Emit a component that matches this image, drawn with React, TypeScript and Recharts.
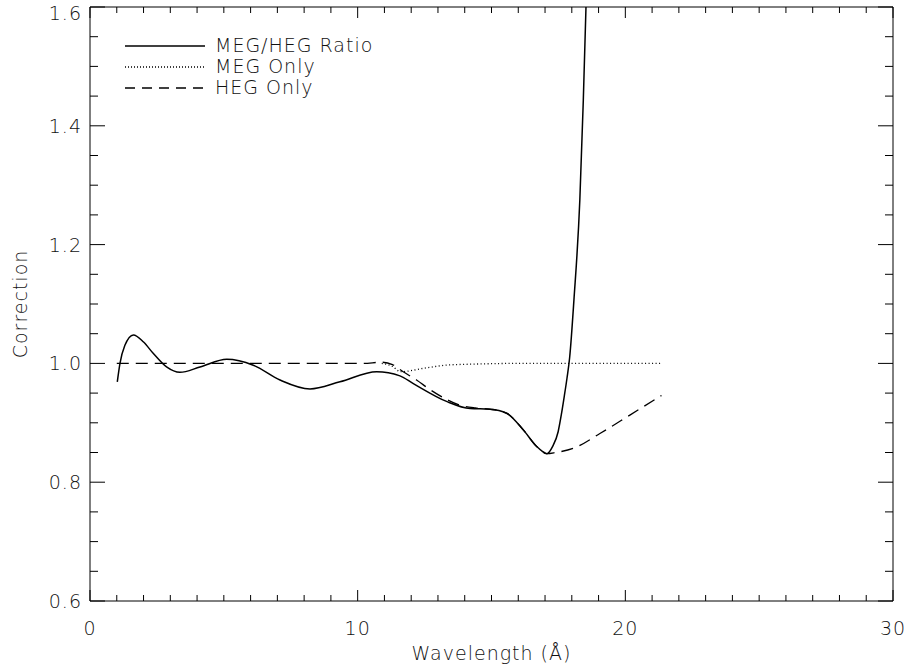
import { LineChart, Line, XAxis, YAxis, Legend } from 'recharts';

// MEG/HEG ratio (solid)
const ratioX = [1.02, 1.12, 1.3, 1.62, 2.0, 2.36, 2.86, 3.36, 4.11, 5.11, 6.1, 7.1, 8.22, 9.34, 10.71, 11.58, 12.08, 13.32, 14.2, 14.94, 15.57, 16.19, 16.69, 16.9, 17.07, 17.28, 17.49, 17.61, 17.72, 17.82, 17.92, 18.08, 18.3, 18.43, 18.53, 18.62];
const ratioY = [0.969, 1.0, 1.03, 1.048, 1.036, 1.017, 0.994, 0.985, 0.994, 1.007, 0.997, 0.972, 0.957, 0.969, 0.986, 0.979, 0.966, 0.936, 0.924, 0.923, 0.916, 0.888, 0.86, 0.852, 0.848, 0.86, 0.885, 0.914, 0.945, 0.975, 1.01, 1.107, 1.275, 1.443, 1.6, 1.76];

// MEG only (dotted)
const megX = [10.9, 11.3, 11.6, 12.5, 13.3, 14.5, 16.0, 21.35];
const megY = [1.0, 0.995, 0.986, 0.992, 0.997, 0.999, 1.0, 1.0];

// HEG only (dashed)
const hegX = [1.0, 10.2, 10.9, 11.3, 11.7, 12.2, 12.7, 13.3, 13.8, 14.4, 14.94, 15.57, 16.19, 16.69, 17.07, 17.4, 18.06, 19.05, 20.17, 21.35];
const hegY = [1.0, 1.0, 1.002, 0.998, 0.986, 0.972, 0.956, 0.94, 0.93, 0.925, 0.923, 0.916, 0.888, 0.86, 0.848, 0.85, 0.857, 0.882, 0.913, 0.946];

const xMajor = [0, 10, 20, 30];
const yMajor = [0.6, 0.8, 1.0, 1.2, 1.4, 1.6];
const xTicks = Array.from({ length: 31 }, (_, i) => i);
const yTicks = Array.from({ length: 21 }, (_, i) => Math.round((0.6 + i * 0.05) * 100) / 100);

const legendNames = ['MEG/HEG Ratio', 'MEG Only', 'HEG Only'];
const legendDash = ['', '1 2', '10 7'];

const FONT = '"DejaVu Sans", sans-serif';
const INK = '#000';

const zip = (xs: number[], ys: number[]) => xs.map((x, i) => ({ x, y: ys[i] }));
const ratioData = zip(ratioX, ratioY);
const megData = zip(megX, megY);
const hegData = zip(hegX, hegY);

const isMajorX = (v: number) => xMajor.includes(v);
const isMajorY = (v: number) => yMajor.some((m) => Math.abs(m - v) < 1e-6);

const textStyle = { fontFamily: FONT, fontSize: 19, fontWeight: 300, letterSpacing: 1, fill: '#111' };

function BottomTick({ x, y, payload }: any) {
  const major = isMajorX(payload.value);
  return (
    <g>
      <line x1={x} y1={y} x2={x} y2={y - (major ? 11 : 6)} stroke={INK} />
      {major && (
        <text x={x} y={y + 34} textAnchor="middle" style={textStyle}>{payload.value}</text>
      )}
    </g>
  );
}

function TopTick({ x, y, payload }: any) {
  const major = isMajorX(payload.value);
  return <line x1={x} y1={y} x2={x} y2={y + (major ? 11 : 6)} stroke={INK} />;
}

function LeftTick({ x, y, payload }: any) {
  const major = isMajorY(payload.value);
  return (
    <g>
      <line x1={x} y1={y} x2={x + (major ? 15 : 8)} y2={y} stroke={INK} />
      {major && (
        <text x={x - 8} y={Math.max(y + 7, 20)} textAnchor="end" style={textStyle}>{payload.value.toFixed(1)}</text>
      )}
    </g>
  );
}

function RightTick({ x, y, payload }: any) {
  const major = isMajorY(payload.value);
  return <line x1={x} y1={y} x2={x - (major ? 15 : 8)} y2={y} stroke={INK} />;
}

function LegendBox() {
  return (
    <div style={{ fontFamily: FONT, fontSize: 19, fontWeight: 300, letterSpacing: 1, color: '#111' }}>
      {legendNames.map((name, i) => (
        <div key={name} style={{ display: 'flex', alignItems: 'center', height: 21 }}>
          <svg width={90} height={21}>
            <line x1={0} y1={11} x2={80} y2={11} stroke={INK} strokeWidth={1.3} strokeDasharray={legendDash[i] || undefined} />
          </svg>
          <span style={{ lineHeight: '21px' }}>{name}</span>
        </div>
      ))}
    </div>
  );
}

export default function App() {
  return (
    <div style={{ position: 'absolute', left: 0, top: 0, background: '#fff' }}>
      <LineChart width={910} height={669} margin={{ top: 0, right: 0, bottom: 0, left: 0 }}>
        <XAxis
          dataKey="x"
          type="number"
          domain={[0, 30]}
          ticks={xTicks}
          interval={0}
          height={68}
          tickSize={0}
          tickMargin={0}
          tickLine={false}
          axisLine={{ stroke: INK }}
          tick={<BottomTick />}
          allowDataOverflow
          label={({ viewBox }: any) => (
            <text x={viewBox.x + viewBox.width / 2} y={viewBox.y + 59} textAnchor="middle" style={textStyle}>
              Wavelength (Å)
            </text>
          )}
        />
        <XAxis
          xAxisId="top"
          orientation="top"
          dataKey="x"
          type="number"
          domain={[0, 30]}
          ticks={xTicks}
          interval={0}
          height={7}
          tickSize={0}
          tickMargin={0}
          tickLine={false}
          axisLine={{ stroke: INK }}
          tick={<TopTick />}
          allowDataOverflow
        />
        <YAxis
          type="number"
          domain={[0.6, 1.6]}
          ticks={yTicks}
          interval={0}
          width={90}
          tickSize={0}
          tickMargin={0}
          tickLine={false}
          axisLine={{ stroke: INK }}
          tick={<LeftTick />}
          allowDataOverflow
          label={({ viewBox }: any) => {
            const cx = 20;
            const cy = viewBox.y + viewBox.height / 2;
            return (
              <text x={cx} y={cy} transform={`rotate(-90 ${cx} ${cy})`} textAnchor="middle" dominantBaseline="central" style={textStyle}>
                Correction
              </text>
            );
          }}
        />
        <YAxis
          yAxisId="right"
          orientation="right"
          type="number"
          domain={[0.6, 1.6]}
          ticks={yTicks}
          interval={0}
          width={17}
          tickSize={0}
          tickMargin={0}
          tickLine={false}
          axisLine={{ stroke: INK }}
          tick={<RightTick />}
          allowDataOverflow
        />
        <Legend
          layout="vertical"
          align="center"
          verticalAlign="middle"
          wrapperStyle={{ left: 125, top: 35, width: 'auto' }}
          content={<LegendBox />}
        />
        {/* MEG curve is drawn against the top/right axes, which share the same domains */}
        <Line data={megData} xAxisId="top" yAxisId="right" dataKey="y" name="MEG Only" type="monotone" stroke={INK} strokeWidth={1.3} strokeDasharray="1 2.5" dot={false} isAnimationActive={false} />
        <Line data={hegData} dataKey="y" name="HEG Only" type="monotone" stroke={INK} strokeWidth={1.3} strokeDasharray="12 7" dot={false} isAnimationActive={false} />
        <Line data={ratioData} dataKey="y" name="MEG/HEG Ratio" type="monotone" stroke={INK} strokeWidth={1.5} dot={false} isAnimationActive={false} />
      </LineChart>
    </div>
  );
}
